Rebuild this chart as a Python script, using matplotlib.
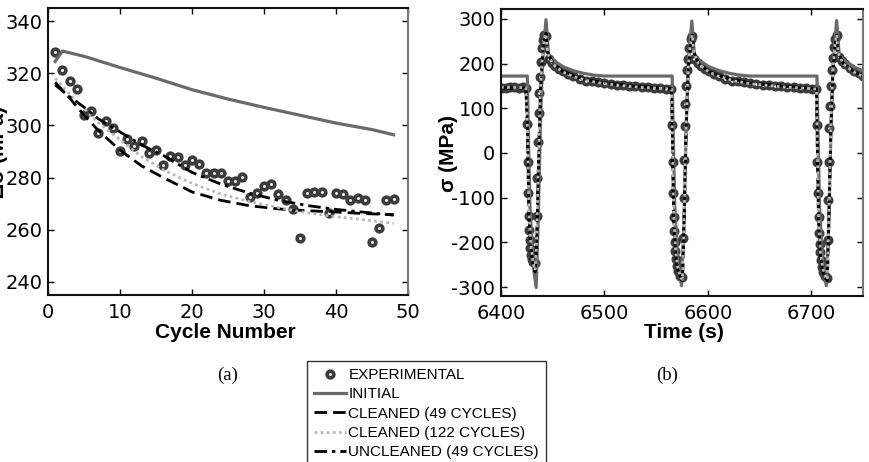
import matplotlib
matplotlib.use("Agg")
import matplotlib.pyplot as plt
from matplotlib.lines import Line2D

plt.rcParams["axes.unicode_minus"] = False

# ---------------- data: panel (a) ----------------
cycles = list(range(1, 49))
exp_delta = [328.1, 321.1, 316.9, 314.1, 304.1, 305.4, 297.2, 301.6, 299.0, 290.3,
             294.8, 292.1, 293.9, 289.4, 290.7, 284.8, 288.1, 287.9, 284.8, 286.6,
             285.1, 281.8, 281.8, 281.8, 278.7, 278.8, 280.2, 272.6, 274.1, 276.9,
             277.4, 273.8, 271.3, 268.0, 257.0, 274.0, 274.4, 274.4, 266.6, 274.0,
             273.6, 271.3, 272.1, 271.6, 255.2, 260.7, 271.3, 271.8]

init_cycles = [1, 2, 5, 10, 15, 20, 25, 30, 35, 40, 45, 48]
init_delta = [324.5, 328.5, 326.5, 322.2, 318.1, 313.7, 310.1, 306.9, 303.9, 300.9, 298.4, 296.4]

model_cycles = [1, 3, 5, 7, 10, 13, 16, 20, 24, 28, 32, 36, 40, 44, 48]
cleaned49_delta = [316.5, 310.5, 304.0, 298.0, 290.5, 284.5, 280.0, 274.5, 271.3, 269.2, 268.0, 267.3, 266.8, 266.2, 265.8]
cleaned122_delta = [318.0, 312.0, 306.5, 301.0, 294.5, 288.0, 283.0, 277.8, 273.7, 270.8, 268.5, 266.5, 265.0, 263.8, 262.5]
uncleaned49_delta = [315.5, 311.0, 307.0, 302.5, 297.5, 292.5, 288.5, 282.0, 277.5, 274.0, 271.3, 269.3, 267.8, 266.7, 265.6]

# ---------------- data: panel (b) ----------------
exp_time = [6401, 6405, 6409, 6413, 6417, 6421, 6424.5,
            6425.5, 6426, 6426.5, 6427, 6427.5, 6428, 6428.5, 6429, 6430, 6431, 6432.5,
            6434.5, 6435.2, 6435.8, 6436.4, 6437, 6437.8, 6438.6, 6439.5, 6440.5, 6442, 6443.5,
            6446, 6449, 6452, 6456, 6460, 6465, 6470, 6476, 6482, 6488, 6494, 6500, 6506,
            6512, 6518, 6524, 6530, 6536, 6542, 6548, 6554, 6560, 6564,
            6565.5, 6566, 6566.5, 6567, 6567.5, 6568, 6568.5, 6569, 6570, 6571, 6573, 6575,
            6576, 6576.5, 6577, 6577.6, 6578.2, 6579, 6580, 6581, 6582, 6583.5, 6585,
            6587, 6590, 6593, 6597, 6601, 6606, 6611, 6617, 6623, 6629, 6635, 6641, 6647,
            6653, 6659, 6665, 6671, 6677, 6683, 6689, 6695, 6701, 6705,
            6705.5, 6706, 6706.5, 6707, 6707.5, 6708, 6708.5, 6709, 6710, 6711, 6713, 6715,
            6716, 6716.5, 6717, 6717.6, 6718.2, 6719, 6720, 6721, 6722, 6723, 6724.5,
            6727, 6730, 6733, 6737, 6741, 6746, 6750]
exp_stress = [145, 146, 147, 147, 146, 147, 145,
              65, -20, -90, -140, -172, -195, -213, -228, -238, -244, -246,
              -142, -56, 25, 89, 134, 171, 204, 234, 253, 263, 262,
              210, 202, 195, 188, 183, 177, 172, 166, 162, 160, 158, 156, 154,
              152.5, 151, 150, 149, 148, 147, 146, 144.5, 143, 142,
              62, -20, -90, -143, -175, -200, -220, -238, -252, -265, -275, -278,
              -190, -100, -15, 60, 110, 150, 185, 210, 235, 255, 262,
              210, 202, 195, 188, 183, 177, 172, 166, 162, 160, 158, 156, 154,
              152.5, 151, 150, 149, 148, 147, 146, 144.5, 143, 142,
              62, -20, -90, -143, -178, -203, -222, -240, -255, -267, -276, -280,
              -195, -105, -20, 55, 105, 150, 185, 212, 237, 255, 263,
              215, 205, 198, 190, 184, 178, 173]

init_time = [6400, 6425.5, 6426, 6428, 6431, 6434, 6436, 6438, 6440, 6443.5, 6446, 6452,
             6460, 6470, 6480, 6490, 6500,
             6565.5, 6566, 6568, 6571, 6574.5, 6577, 6579, 6581, 6584.5, 6587, 6593,
             6601, 6611, 6621, 6631, 6641,
             6705.5, 6706, 6708, 6711, 6714.5, 6717, 6719, 6721, 6724.5, 6727, 6733,
             6741, 6751]
init_stress = [172, 172, 100, -120, -250, -301, -150, 50, 200, 298, 219, 205,
               193, 184, 178, 174, 172,
               172, 100, -120, -250, -297, -150, 50, 200, 295, 219, 205,
               193, 184, 178, 174, 172,
               172, 100, -120, -250, -297, -150, 50, 200, 296, 219, 205,
               193, 182]

model_time = [6400, 6424, 6425.5, 6427, 6429, 6431, 6433, 6434.5, 6436, 6438, 6440, 6442,
              6443.5, 6445, 6450, 6460, 6470, 6485, 6500, 6530, 6565,
              6565.5, 6567, 6569, 6571, 6574, 6575.5, 6577, 6579, 6581, 6583, 6585,
              6586.5, 6591, 6601, 6611, 6626, 6641, 6671, 6705,
              6705.5, 6707, 6709, 6711, 6714, 6715.5, 6717, 6719, 6721, 6723, 6724.5,
              6726, 6731, 6741, 6751]
cleaned49_stress = [146, 145, 60, -140, -215, -250, -265, -200, -40, 130, 215, 255,
                    268, 225, 200, 182, 172, 162, 156, 149, 143,
                    60, -150, -230, -262, -282, -285, -150, 60, 185, 240, 265,
                    225, 200, 182, 172, 162, 156, 149, 143,
                    60, -150, -230, -262, -282, -285, -150, 60, 185, 240, 265,
                    225, 200, 182, 171]
cleaned122_stress = [147, 146, 62, -135, -210, -245, -262, -195, -35, 135, 218, 256,
                     266, 224, 199, 181, 171, 161, 155, 148, 143,
                     62, -145, -225, -258, -280, -283, -145, 65, 188, 242, 264,
                     224, 199, 181, 171, 161, 155, 148, 143,
                     62, -145, -225, -258, -280, -283, -145, 65, 188, 242, 264,
                     224, 199, 181, 170]
uncleaned49_stress = [145, 144, 58, -142, -218, -252, -266, -202, -45, 128, 212, 253,
                      267, 226, 201, 183, 173, 163, 157, 150, 144,
                      58, -152, -232, -264, -283, -286, -152, 58, 183, 238, 264,
                      226, 201, 183, 173, 163, 157, 150, 144,
                      58, -152, -232, -264, -283, -286, -152, 58, 183, 238, 264,
                      226, 201, 183, 172]

legend_labels = ["EXPERIMENTAL", "INITIAL", "CLEANED (49 CYCLES)",
                 "CLEANED (122 CYCLES)", "UNCLEANED (49 CYCLES)"]

# ---------------- styles ----------------
MK = dict(linestyle="none", marker="o", markersize=4.8, markerfacecolor="white",
          markeredgecolor="#3c3c3c", markeredgewidth=2.6)
INIT = dict(color="#6a6a6a", linewidth=2.3, linestyle="-")
C49 = dict(color="black", linewidth=2.0, linestyle=(0, (4.5, 2.2)))
C122 = dict(color="#b8b8b8", linewidth=2.0, linestyle=(0, (1.0, 1.2)))
U49 = dict(color="black", linewidth=2.0, linestyle=(0, (4.5, 1.8, 1.2, 1.8)))

LABELFONT = dict(family="Liberation Sans", size=15, weight="bold")

fig = plt.figure(figsize=(8.69, 4.62), dpi=100)
fig.patch.set_facecolor("white")

W, H = 869.0, 462.0
ax1 = fig.add_axes([48 / W, 1 - 295 / H, (408 - 48) / W, (295 - 8) / H])
ax2 = fig.add_axes([501 / W, 1 - 296 / H, (863 - 501) / W, (296 - 9) / H])

# panel (a)
ax1.plot(cycles, exp_delta, **MK)
ax1.plot(init_cycles, init_delta, **INIT)
ax1.plot(model_cycles, cleaned49_delta, **C49)
ax1.plot(model_cycles, cleaned122_delta, **C122)
ax1.plot(model_cycles, uncleaned49_delta, **U49)
ax1.set_xlim(0, 50)
ax1.set_ylim(235, 345)
ax1.set_xticks([0, 10, 20, 30, 40, 50])
ax1.set_yticks([240, 260, 280, 300, 320, 340])

# panel (b)
ax2.plot(exp_time, exp_stress, **dict(MK, markersize=4.6, markeredgewidth=2.6))
ax2.plot(init_time, init_stress, **INIT)
ax2.plot(model_time, cleaned49_stress, **C49)
ax2.plot(model_time, uncleaned49_stress, **U49)
ax2.plot(model_time, cleaned122_stress, **C122)
ax2.set_xlim(6400, 6750)
ax2.set_ylim(-320, 322)
ax2.set_xticks([6400, 6500, 6600, 6700])
ax2.set_yticks([-300, -200, -100, 0, 100, 200, 300])

for ax in (ax1, ax2):
    ax.tick_params(direction="in", length=4, width=1, top=True, right=True,
                   labelsize=14, pad=4)
    for lab in ax.get_xticklabels() + ax.get_yticklabels():
        lab.set_fontfamily("DejaVu Sans")
    ax.tick_params(axis="x", pad=6)
    for side in ("left", "bottom", "top"):
        ax.spines[side].set_color("#111111")
        ax.spines[side].set_linewidth(1.5)
    ax.spines["right"].set_color("#777777")
    ax.spines["right"].set_linewidth(1.5)

# axis labels placed as figure text
fig.text(225 / W, 1 - 333 / H, "Cycle Number", ha="center", va="center", **LABELFONT)
fig.text(684 / W, 1 - 333 / H, "Time (s)", ha="center", va="center", **LABELFONT)
fig.text(8 / W, 1 - 152 / H, "Δσ (MPa)", ha="right", va="center", rotation=90, **LABELFONT)
fig.text(448 / W, 1 - 153 / H, "σ (MPa)", ha="center", va="center", rotation=90, **LABELFONT)

fig.text(228 / W, 1 - 375 / H, "(a)", ha="center", va="center",
         family="Liberation Serif", size=13.5)
fig.text(667 / W, 1 - 375 / H, "(b)", ha="center", va="center",
         family="Liberation Serif", size=13.5)

handles = [Line2D([], [], **MK), Line2D([], [], **INIT), Line2D([], [], **C49),
           Line2D([], [], **C122), Line2D([], [], **U49)]
leg = fig.legend(handles, legend_labels, loc="upper left",
                 bbox_to_anchor=(307 / W, 1 - 361 / H), frameon=True, fancybox=False,
                 prop=dict(family="Liberation Sans", size=11), handlelength=2.1,
                 handletextpad=0.15, labelspacing=0.35, borderpad=0.45,
                 borderaxespad=0.0, numpoints=1)
leg.get_frame().set_edgecolor("black")
leg.get_frame().set_linewidth(1.0)

fig.savefig("out.png", dpi=100, facecolor="white")
